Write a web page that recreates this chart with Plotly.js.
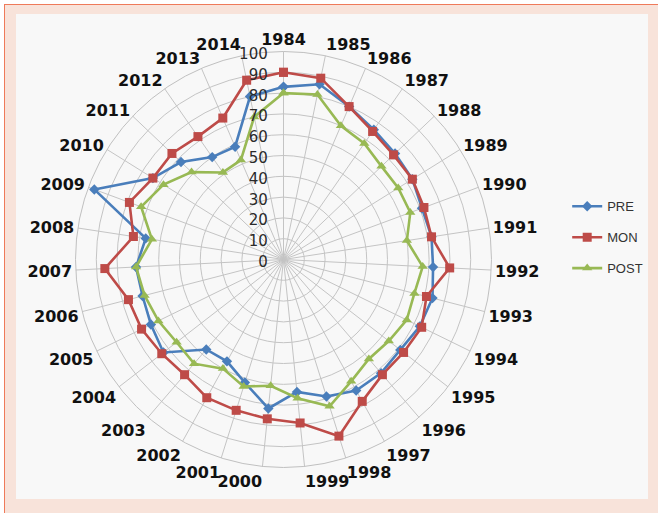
<!DOCTYPE html>
<html>
<head>
<meta charset="utf-8">
<script src="https://cdn.plot.ly/plotly-3.0.1.min.js"></script>
<style>
  html, body { margin: 0; padding: 0; background: #ffffff; }
  #wrap { position: relative; width: 658px; height: 513px; overflow: hidden; }
  #outer { position: absolute; left: 4px; top: 4px; right: 0; bottom: 0; background: #f8e3da; border-left: 1.5px solid #ef7a5a; border-top: 1.5px solid #ef7a5a; }
  #panel { position: absolute; left: 16px; top: 14px; width: 632px; height: 485px; background: #f8f8f8; }
  #chart { position: absolute; left: 0; top: 0; width: 658px; height: 513px; }
</style>
</head>
<body>
<div id="wrap">
  <div id="outer"></div>
  <div id="panel"></div>
  <div id="chart"></div>
</div>
<script>
const years = ["1984","1985","1986","1987","1988","1989","1990","1991","1992","1993",
  "1994","1995","1996","1997","1998","1999","2000","2001","2002","2003",
  "2004","2005","2006","2007","2008","2009","2010","2011","2012","2013","2014"];

const pre  = [83,86,80,76,74,73,71,72,72,74, 73,71,72,72,69,64,72,62,56,57, 73,71,70,71,67,97,74,68,60,59,80];
const mon  = [90,89,80,75,73,73,72,72,80,71, 74,73,73,78,89,79,77,76,76,73, 74,76,77,86,73,79,74,74,72,74,88];
const post = [80,81,70,68,65,65,65,60,67,65, 66,64,63,67,74,67,61,64,60,66, 65,67,69,71,64,73,68,61,51,52,70];

const radialTicks = [0,10,20,30,40,50,60,70,80,90,100];

function closed(a) { return a.concat([a[0]]); }

const thetaClosed = closed(years);

const traces = [
  { name: "PRE", r: closed(pre), color: "#4a7ebb", symbol: "diamond", size: 8 },
  { name: "MON", r: closed(mon), color: "#be4b48", symbol: "square", size: 9 },
  { name: "POST", r: closed(post), color: "#98b954", symbol: "triangle-up", size: 9 }
].map(s => ({
  type: "scatterpolar",
  mode: "lines+markers",
  name: s.name,
  legendgroup: s.name,
  r: s.r,
  theta: thetaClosed,
  line: { color: s.color, width: 2.6 },
  marker: { color: s.color, symbol: s.symbol, size: s.size },
  cliponaxis: false
}));

const layout = {
  width: 658, height: 513,
  margin: { l: 0, r: 0, t: 0, b: 0 },
  paper_bgcolor: "rgba(0,0,0,0)",
  showlegend: true,
  legend: {
    x: 0.862, y: 0.627, xanchor: "left", yanchor: "top",
    bgcolor: "rgba(0,0,0,0)",
    font: { family: "Liberation Sans, Arial, sans-serif", size: 13, color: "#333" },
    traceorder: "grouped", tracegroupgap: 11
  },
  polar: {
    domain: { x: [0.1147, 0.747], y: [0.0887, 0.8996] },
    bgcolor: "rgba(0,0,0,0)",
    angularaxis: {
      type: "category",
      categoryarray: years,
      rotation: 90,
      direction: "clockwise",
      showline: true,
      linecolor: "#c0c0c0",
      linewidth: 1,
      gridcolor: "#c4c4c4",
      gridwidth: 1,
      ticks: "",
      tickfont: { family: "DejaVu Sans, sans-serif", size: 16, color: "#111", weight: "bold" }
    },
    radialaxis: {
      range: [0, 100],
      tickvals: radialTicks,
      ticktext: radialTicks.map(v => String(v) + "\u00a0"),
      angle: 90,
      side: "counterclockwise",
      showline: false,
      gridcolor: "#c4c4c4",
      gridwidth: 1,
      ticks: "",
      tickfont: { family: "DejaVu Sans, sans-serif", size: 15, color: "#2a2a2a" }
    }
  }
};

Plotly.newPlot("chart", traces, layout, { displayModeBar: false, staticPlot: true });
</script>
</body>
</html>
